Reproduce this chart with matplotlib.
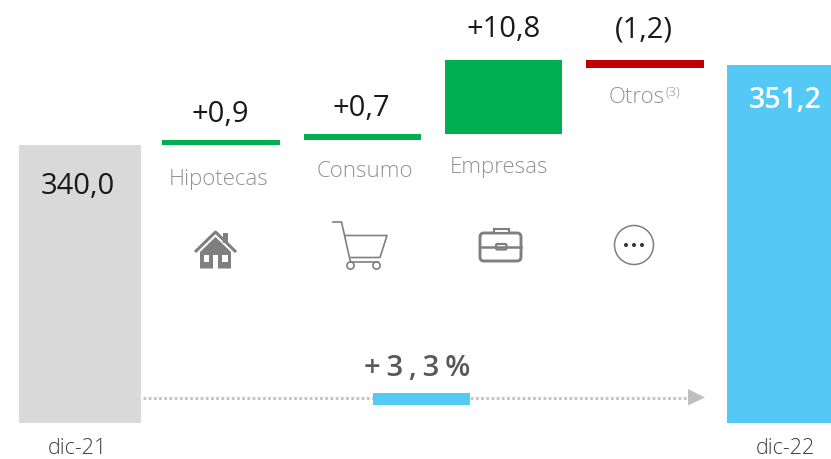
import matplotlib
matplotlib.use("Agg")
import matplotlib.pyplot as plt
from matplotlib.patches import Polygon, Circle, FancyBboxPatch, Rectangle

plt.rcParams['font.family'] = ['Open Sans', 'DejaVu Sans']

# totals
total_labels = ["dic-21", "dic-22"]
total_values = [340.0, 351.2]
total_texts = ["340,0", "351,2"]

# the slide does not stack the deltas exactly, so low/high are read per bar
categories = ["Hipotecas", "Consumo", "Empresas", "Otros"]
delta_texts = ["+0,9", "+0,7", "+10,8", "(1,2)"]
delta_low = [340.0, 340.7, 341.47, 350.8]
delta_high = [340.7, 341.47, 351.9, 351.9]

GREY = "#d9d9d9"
BLUE = "#55c9f5"
GREEN = "#00b050"
RED = "#c00000"
ICON = "#7f7f7f"
LABEL = "#929292"
DARK = "#1a1a1a"

fig = plt.figure(figsize=(8.31, 4.59), dpi=100)

# data axes, categories are 141.3 px apart and the baseline is cut
ax = fig.add_axes([0, 0, 1, 1])
ax.set_xlim(-79.8 / 141.3, (831 - 79.8) / 141.3)
px_per_unit = 80 / 11.2
base = 340.0 - (423 - 145) / px_per_unit
ax.set_ylim(base - (459 - 423) / px_per_unit, base + 423 / px_per_unit)
ax.axis("off")

ax.bar(0, total_values[0] - base, bottom=base, width=0.86, color=GREY)
ax.bar(5, total_values[1] - base, bottom=base, width=0.84, color=BLUE)

for i in range(4):
    color = RED if delta_texts[i].startswith("(") else GREEN
    ax.bar(i + 1, delta_high[i] - delta_low[i], bottom=delta_low[i], width=0.83, color=color)

# overlay in pixels for the labels and the icons
ov = fig.add_axes([0, 0, 1, 1])
ov.set_xlim(0, 831)
ov.set_ylim(459, 0)
ov.axis("off")
ov.patch.set_alpha(0)

ov.text(78, 193.5, total_texts[0], fontsize=21, color=DARK, ha="center", va="baseline")
ov.text(785, 108, total_texts[1], fontsize=20.5, color="white", ha="center", va="baseline", fontweight="semibold")
ov.text(77, 454, total_labels[0], fontsize=15.5, color="#404040", ha="center", va="baseline", fontweight="light")
ov.text(785, 453.5, total_labels[1], fontsize=15.5, color="#404040", ha="center", va="baseline", fontweight="light")

delta_xy = [(220, 122), (361, 116), (504, 37), (644, 37)]
for (x, y), t in zip(delta_xy, delta_texts):
    ov.text(x, y, t, fontsize=21, color=DARK, ha="center", va="baseline")

cat_xy = [(219, 185), (365, 177), (499, 172.5), (636.5, 103)]
for (x, y), c in zip(cat_xy, categories):
    ov.text(x, y, c, fontsize=16, color=LABEL, ha="center", va="baseline", fontweight="light")
ov.text(665, 96, "(3)", fontsize=9.5, color=LABEL, ha="left", va="baseline", fontweight="light")

# house
ov.add_patch(Rectangle((223, 233), 5, 10, color=ICON, lw=0))
ov.plot([195, 215.5, 236], [252, 232, 252], color=ICON, lw=2.2, solid_capstyle="butt")
ov.add_patch(Polygon([(200, 252), (215.5, 237), (231, 252), (231, 268.5), (218, 268.5), (218, 255),
                      (213, 255), (213, 268.5), (200, 268.5)], color=ICON, lw=0))
ov.add_patch(Rectangle((203.5, 255), 5.5, 6.5, color="white", lw=0))
ov.add_patch(Rectangle((222, 255), 5.5, 6.5, color="white", lw=0))

# cart
ov.plot([333, 341.5, 350.5], [222, 222, 262], color=ICON, lw=1.2)
ov.plot([345, 387, 380, 351], [235.5, 235.5, 257.5, 257.5], color=ICON, lw=1.2)
ov.plot([351, 378], [262, 262], color=ICON, lw=1.2)
ov.add_patch(Circle((350.5, 265.5), 3.6, fc="white", ec=ICON, lw=1.2))
ov.add_patch(Circle((376.5, 265.5), 3.6, fc="white", ec=ICON, lw=1.2))

# briefcase
ov.add_patch(FancyBboxPatch((480, 233), 41, 28, boxstyle="round,pad=0,rounding_size=4", fc="white", ec=ICON, lw=2.1))
ov.add_patch(Rectangle((494, 229), 14.5, 4, fc="white", ec=ICON, lw=1.5))
ov.plot([480, 521], [247, 247], color=ICON, lw=1.8)
ov.add_patch(FancyBboxPatch((496, 244), 10.5, 5.5, boxstyle="round,pad=0,rounding_size=1.5", fc="white", ec=ICON, lw=1.6))

# dots
ov.add_patch(Circle((634, 245), 19.5, fc="white", ec=ICON, lw=1.1))
for dx in [-8, 0, 8]:
    ov.add_patch(Circle((634 + dx, 245), 2, fc="#333333", ec="none"))

# growth arrow
ov.plot([143, 690], [397.5, 397.5], color="#c4c4c4", lw=2.2, ls=(0, (0.9, 0.8)), zorder=1)
ov.add_patch(Polygon([(688, 389), (705, 397.5), (688, 405.5)], color="#bfbfbf", lw=0, zorder=2))
ov.add_patch(Rectangle((372.7, 392.7), 97.5, 12, color=BLUE, lw=0, zorder=2))
ov.text(417, 376, "+\u20093\u2009,\u20093\u2009%", fontsize=21, color="#595959", ha="center", va="baseline", fontweight="semibold")

fig.savefig("out.png", dpi=100)
